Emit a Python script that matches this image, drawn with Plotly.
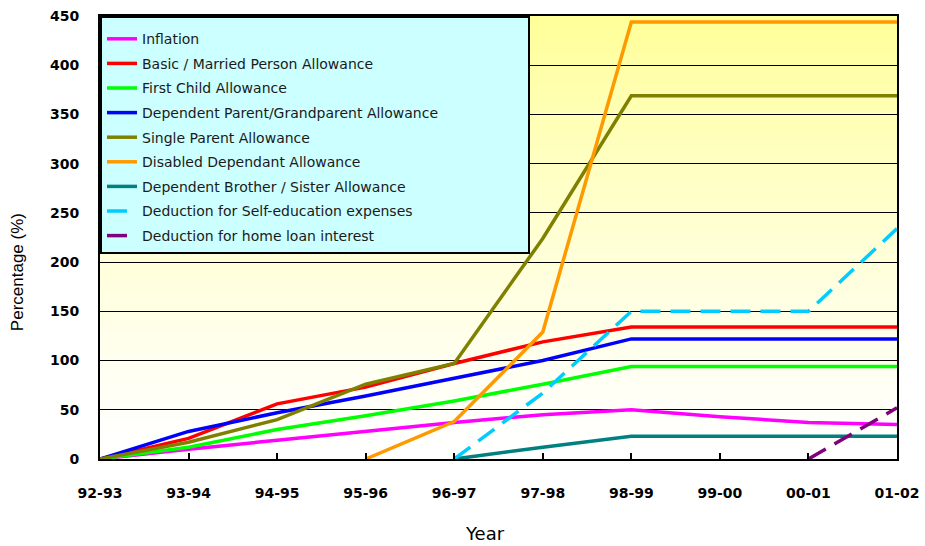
import plotly.graph_objects as go

# ---------------- data ----------------
years = ["92-93", "93-94", "94-95", "95-96", "96-97", "97-98", "98-99", "99-00", "00-01", "01-02"]
y_ticks = [0, 50, 100, 150, 200, 250, 300, 350, 400, 450]

inflation = [0, 10, 19, 28, 37, 45, 50, 43, 37, 35]
basic_married = [0, 21, 56, 73, 97, 119, 134, 134, 134, 134]
first_child = [0, 12, 30, 44, 59, 76, 94, 94, 94, 94]
dependent_parent = [0, 28, 47, 64, 82, 100, 122, 122, 122, 122]
single_parent = [0, 17, 40, 76, 97, 224, 369, 369, 369, 369]
disabled_dependant = [None, None, None, 0, 38, 129, 444, 444, 444, 444]
brother_sister = [None, None, None, None, 0, 12, 23, 23, 23, 23]
self_education = [None, None, None, None, 0, 67, 150, 150, 150, 234]
home_loan = [None, None, None, None, None, None, None, None, 0, 52]

series_names = [
    "Inflation",
    "Basic / Married Person Allowance",
    "First Child Allowance",
    "Dependent Parent/Grandparent Allowance",
    "Single Parent Allowance",
    "Disabled Dependant Allowance",
    "Dependent Brother / Sister Allowance",
    "Deduction for Self-education expenses",
    "Deduction for home loan interest",
]
series_values = [inflation, basic_married, first_child, dependent_parent, single_parent,
                 disabled_dependant, brother_sister, self_education, home_loan]
series_colors = ["#FF00FF", "#FF0000", "#00FF00", "#0000FF", "#808000",
                 "#FF9900", "#008080", "#00CCFF", "#800080"]
series_dash = ["solid"] * 7 + ["20px,10px", "20px,10px"]

# ---------------- figure ----------------
fig = go.Figure()
pad = "\u00a0" * 19
for i, (name, vals, col, dash) in enumerate(zip(series_names, series_values, series_colors, series_dash)):
    label = name + pad if name.startswith("Dependent Parent") else name
    fig.add_trace(go.Scatter(
        x=years, y=vals, mode="lines", name=label,
        legendgroup="g%d" % i,
        line=dict(color=col, width=3.5, dash=dash),
        connectgaps=False, hoverinfo="skip",
    ))

# gradient background (yellow top -> white bottom)
n_bands = 60
for k in range(n_bands):
    t0 = k / n_bands
    t1 = (k + 1) / n_bands
    tm = (t0 + t1) / 2
    b = int(round(255 - 102 * (tm ** 1.25)))
    fig.add_shape(type="rect", xref="x domain", yref="y domain",
                  x0=0, x1=1, y0=t0, y1=t1 + 0.002,
                  fillcolor="rgb(255,255,%d)" % b, line_width=0, layer="below")

tick_font = dict(family="DejaVu Sans", size=14, color="#000000", weight="bold")

fig.update_layout(
    width=925, height=546,
    margin=dict(l=100, r=28, t=16, b=87, pad=0, autoexpand=False),
    paper_bgcolor="white", plot_bgcolor="white",
    showlegend=True,
    legend=dict(
        x=0, y=1, xanchor="left", yanchor="top",
        bgcolor="#CCFFFF", bordercolor="#000000", borderwidth=2,
        font=dict(family="DejaVu Sans", size=14, color="#1a1a1a"),
        traceorder="grouped", tracegroupgap=3.4,
        itemwidth=30,
        title=dict(text="\u00a0", font=dict(size=4)),
    ),
    xaxis=dict(
        type="category", range=[0, 9], automargin=False,
        tickvals=years, ticktext=years,
        ticks="inside", ticklen=6, tickwidth=1.5, tickcolor="#000000",
        showline=True, linecolor="#000000", linewidth=2, mirror=True,
        showgrid=False, zeroline=False,
        tickfont=tick_font, ticklabelstandoff=20,
    ),
    yaxis=dict(
        range=[0, 450], tickvals=y_ticks, automargin=False,
        ticks="", showgrid=True, gridcolor="#000000", gridwidth=1.2,
        showline=True, linecolor="#000000", linewidth=2, mirror=True,
        zeroline=False,
        tickfont=tick_font, ticklabelstandoff=16,
    ),
    annotations=[
        dict(text="Percentage (%)", xref="paper", yref="paper",
             x=-0.104, y=0.422, xanchor="center", yanchor="middle",
             textangle=-90, showarrow=False,
             font=dict(family="Liberation Sans, Arial", size=17, color="#000000")),
        dict(text="Year", xref="paper", yref="paper",
             x=0.483, y=-0.169, xanchor="center", yanchor="middle",
             showarrow=False,
             font=dict(family="DejaVu Sans", size=18, color="#000000")),
    ],
)

fig.write_html("out.html")
